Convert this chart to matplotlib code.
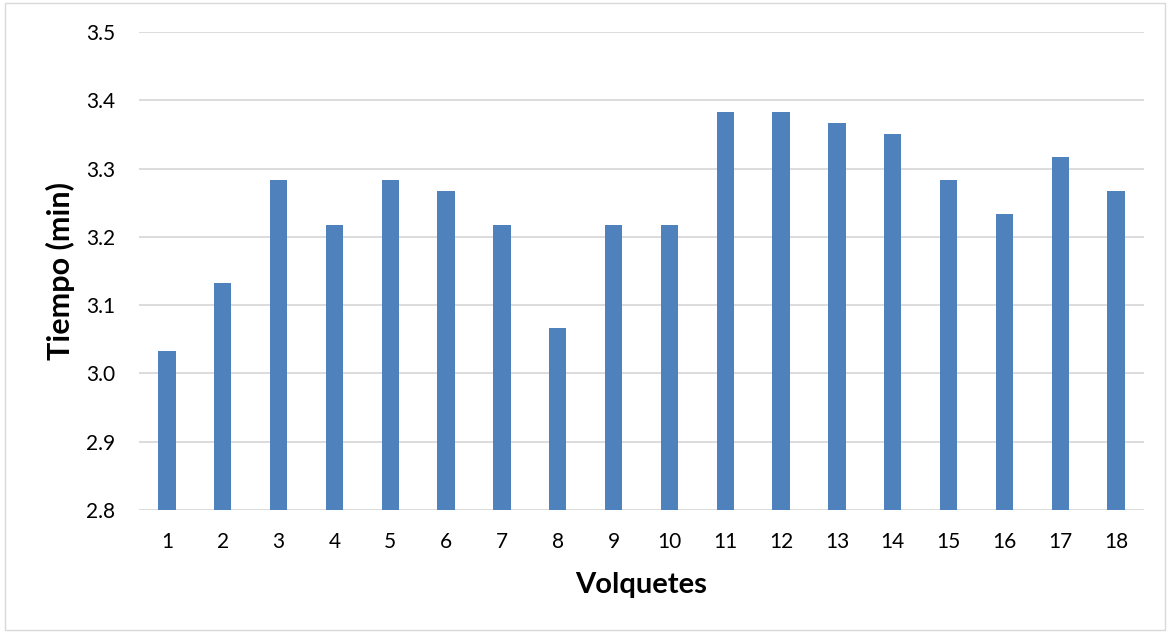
import matplotlib.pyplot as plt
from matplotlib.patches import Rectangle

plt.rcParams.update({"font.family": ["Lato", "DejaVu Sans"], "font.size": 15})

volquetes = [str(i) for i in range(1, 19)]
tiempo_min = [3.033, 3.133, 3.283, 3.217, 3.283, 3.267, 3.217, 3.067, 3.217,
              3.217, 3.383, 3.383, 3.367, 3.35, 3.283, 3.233, 3.317, 3.267]
y_ticks = [2.8, 2.9, 3.0, 3.1, 3.2, 3.3, 3.4, 3.5]

fig = plt.figure(figsize=(11.7, 6.33), dpi=100)
ax = fig.add_axes([139 / 1170, 1 - 510 / 633, (1144 - 139) / 1170, (510 - 32) / 633])

x = range(len(volquetes))
ax.bar(x, [v - 2.8 for v in tiempo_min], bottom=2.8, width=0.31, color="#4F81BD", zorder=3)

ax.set_xlim(-0.5, len(volquetes) - 0.5)
ax.set_ylim(2.8, 3.5)
ax.set_xticks(list(x))
ax.set_xticklabels(volquetes)
ax.set_yticks(y_ticks)
ax.set_yticklabels([f"{t:.1f}" for t in y_ticks])
ax.tick_params(length=0, colors="#000000")
ax.tick_params(axis="x", pad=16)
ax.tick_params(axis="y", pad=17)
ax.grid(axis="y", color="#D9D9D9", linewidth=1.3, zorder=0)
for side in ax.spines.values():
    side.set_visible(False)

ax.set_xlabel("Volquetes", fontsize=21, fontweight="bold")
ax.set_ylabel("Tiempo (min)", fontsize=22, fontweight="bold")
ax.xaxis.label.set_va("center")
ax.yaxis.label.set_va("center")
ax.xaxis.set_label_coords(0.5, -0.157)
ax.yaxis.set_label_coords(-0.0786, 0.5)

# light frame round the whole chart area
fig.patches.append(Rectangle((5 / 1170, 0.005), 1 - 10 / 1170, 0.99, transform=fig.transFigure,
                             fill=False, edgecolor="#D9D9D9", linewidth=1.0))

fig.savefig("out.png", dpi=100)
